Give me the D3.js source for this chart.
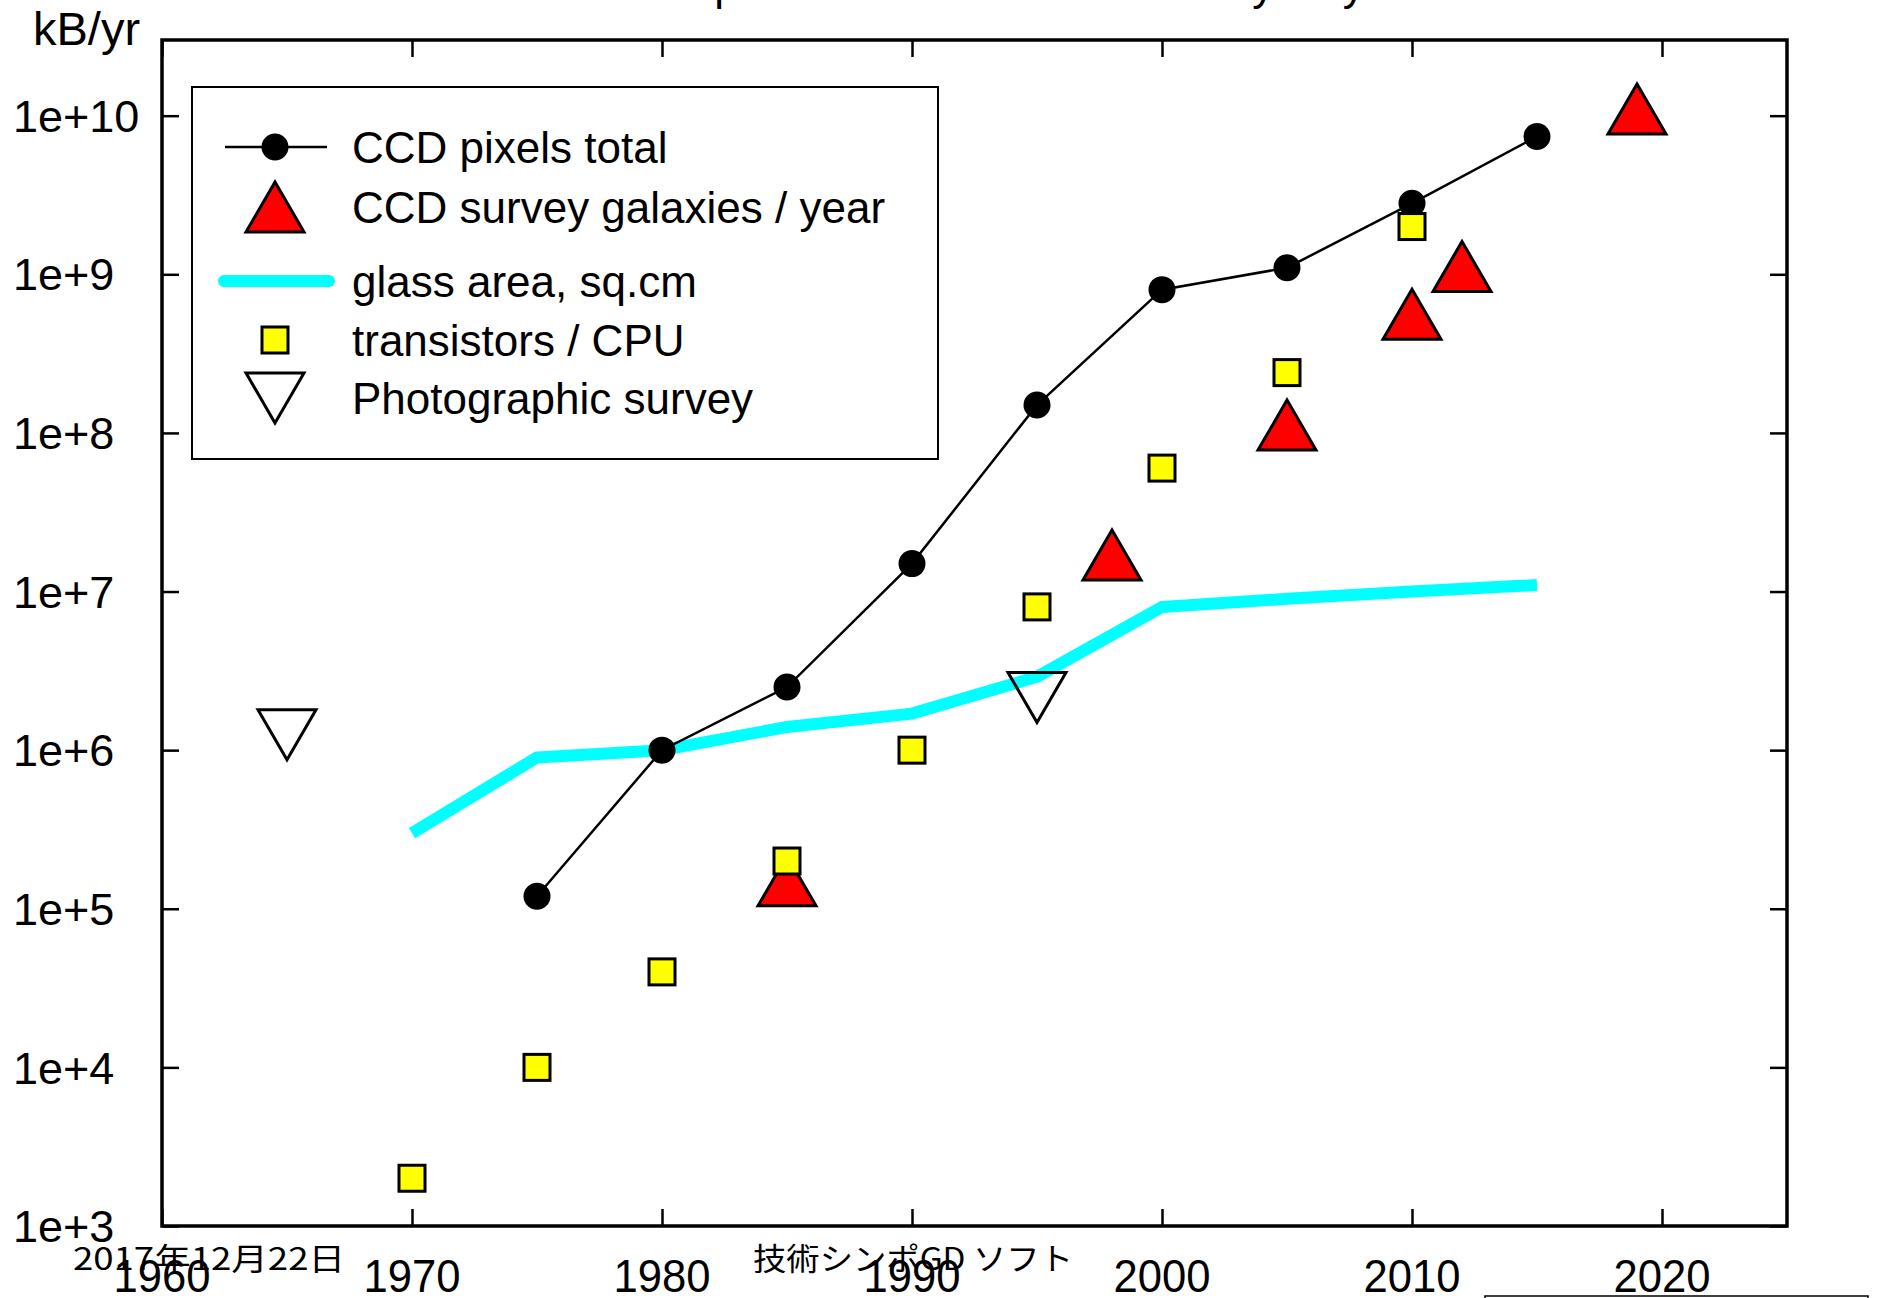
<!DOCTYPE html>
<html>
<head>
<meta charset="utf-8">
<script src="https://cdn.jsdelivr.net/npm/d3@7"></script>
<style>
  html, body { margin: 0; padding: 0; background: #fff; overflow: hidden; }
  svg { display: block; }
  text { font-family: "Liberation Sans", Arial, Helvetica, sans-serif; fill: #000; }
</style>
</head>
<body>
<div id="chart"></div>
<script>
// ---------------- data ----------------
const titleText = "Data production rate of astronomy vs year";
const yAxisLabel = "kB/yr";

const ccdYears   = [1975, 1980, 1985, 1990, 1995, 2000, 2005, 2010, 2015];
const ccdPixels  = [1.2e5, 1.0e6, 2.5e6, 1.5e7, 1.5e8, 8.0e8, 1.1e9, 2.8e9, 7.4e9];

const galYears   = [1985, 1998, 2005, 2010, 2012, 2019];
const galaxies   = [1.5e5, 1.7e7, 1.12e8, 5.6e8, 1.12e9, 1.1e10];

const glassYears = [1970, 1975, 1980, 1985, 1990, 1995, 2000, 2005, 2010, 2015];
const glassArea  = [3.0e5, 9.0e5, 1.0e6, 1.4e6, 1.7e6, 2.9e6, 8.0e6, 9.0e6, 1.0e7, 1.1e7];

const cpuYears   = [1970, 1975, 1980, 1985, 1990, 1995, 2000, 2005, 2010];
const transistors= [2.0e3, 1.0e4, 4.0e4, 2.0e5, 1.0e6, 8.0e6, 6.0e7, 2.4e8, 2.0e9];

const photoYears = [1965, 1995];
const photoSurvey= [1.25e6, 2.15e6];

const xTicks = [1960, 1970, 1980, 1990, 2000, 2010, 2020];
const yTicks = [1e3, 1e4, 1e5, 1e6, 1e7, 1e8, 1e9, 1e10];
const yTickLabels = ["1e+3", "1e+4", "1e+5", "1e+6", "1e+7", "1e+8", "1e+9", "1e+10"];

const legendLabels = ["CCD pixels total", "CCD survey galaxies / year", "glass area, sq.cm", "transistors / CPU", "Photographic survey"];
const footerDate = "2017年12月22日";
const footerEvent = "技術シンポGD ソフト";

// ---------------- layout ----------------
const W = 1885, H = 1298;
const plot = { left: 162, right: 1787, top: 40, bottom: 1226 };

const svg = d3.select("#chart").append("svg").attr("width", W).attr("height", H);

const x = d3.scaleLinear().domain([1960, 2025]).range([plot.left, plot.right]);
const y = d3.scaleLog().domain([1e3, 3e10]).range([plot.bottom, plot.top]);

const zip = (a, b) => a.map((v, i) => [v, b[i]]);

// title (mostly above the visible area)
svg.append("text").attr("x", 609).attr("y", 0)
  .attr("font-size", 44).text(titleText);

// clip for data
svg.append("clipPath").attr("id", "clip").append("rect")
  .attr("x", plot.left).attr("y", plot.top)
  .attr("width", plot.right - plot.left).attr("height", plot.bottom - plot.top);

// ---------------- axes ----------------
const tickLen = 17;
const axisG = svg.append("g");
axisG.append("g").attr("transform", `translate(0,${plot.bottom})`)
  .call(d3.axisTop(x).tickValues(xTicks).tickSize(tickLen).tickFormat(""))
  .call(g => g.select(".domain").remove());
axisG.append("g").attr("transform", `translate(0,${plot.top})`)
  .call(d3.axisBottom(x).tickValues(xTicks).tickSize(tickLen).tickFormat(""))
  .call(g => g.select(".domain").remove());
axisG.append("g").attr("transform", `translate(${plot.left},0)`)
  .call(d3.axisRight(y).tickValues(yTicks).tickSize(tickLen).tickFormat(""))
  .call(g => g.select(".domain").remove());
axisG.append("g").attr("transform", `translate(${plot.right},0)`)
  .call(d3.axisLeft(y).tickValues(yTicks).tickSize(tickLen).tickFormat(""))
  .call(g => g.select(".domain").remove());
axisG.selectAll(".tick line").attr("stroke", "#000").attr("stroke-width", 2.5);

// frame
svg.append("rect").attr("x", plot.left).attr("y", plot.top)
  .attr("width", plot.right - plot.left).attr("height", plot.bottom - plot.top)
  .attr("fill", "none").attr("stroke", "#000").attr("stroke-width", 3.5);

// y tick labels
svg.append("g").selectAll("text").data(yTicks).join("text")
  .attr("x", 13).attr("y", d => y(d)).attr("dy", "0.36em")
  .attr("font-size", 45)
  .text((d, i) => yTickLabels[i]);

// y axis label
svg.append("text").attr("x", 33).attr("y", 45).attr("font-size", 47).text(yAxisLabel);

// x tick labels
svg.append("g").selectAll("text").data(xTicks).join("text")
  .attr("x", d => x(d)).attr("y", 1292)
  .attr("text-anchor", "middle").attr("font-size", 47)
  .attr("textLength", 97).attr("lengthAdjust", "spacingAndGlyphs")
  .text(d => d);

// ---------------- symbols ----------------
const triUp = (w, h) => `M0,${-h/2}L${w/2},${h/2}L${-w/2},${h/2}Z`;
const triDown = (w, h) => `M0,${h/2}L${w/2},${-h/2}L${-w/2},${-h/2}Z`;
const TW = 58, TH = 50, SQ = 26, CR = 13.5;

const data = svg.append("g").attr("clip-path", "url(#clip)");

// glass area line
data.append("path").datum(zip(glassYears, glassArea))
  .attr("fill", "none").attr("stroke", "#00ffff").attr("stroke-width", 12)
  .attr("stroke-linejoin", "round")
  .attr("d", d3.line().x(d => x(d[0])).y(d => y(d[1])));

// CCD pixels line + points
data.append("path").datum(zip(ccdYears, ccdPixels))
  .attr("fill", "none").attr("stroke", "#000").attr("stroke-width", 2.5)
  .attr("d", d3.line().x(d => x(d[0])).y(d => y(d[1])));
data.append("g").selectAll("circle").data(zip(ccdYears, ccdPixels)).join("circle")
  .attr("cx", d => x(d[0])).attr("cy", d => y(d[1])).attr("r", CR).attr("fill", "#000");

// photographic survey (open down triangles)
data.append("g").selectAll("path").data(zip(photoYears, photoSurvey)).join("path")
  .attr("transform", d => `translate(${x(d[0])},${y(d[1])})`)
  .attr("d", triDown(TW, TH)).attr("fill", "none").attr("stroke", "#000").attr("stroke-width", 3);

// galaxies triangles
data.append("g").selectAll("path").data(zip(galYears, galaxies)).join("path")
  .attr("transform", d => `translate(${x(d[0])},${y(d[1])})`)
  .attr("d", triUp(TW, TH)).attr("fill", "#ff0000").attr("stroke", "#000").attr("stroke-width", 3)
  .attr("stroke-linejoin", "miter");

// transistors squares
data.append("g").selectAll("rect").data(zip(cpuYears, transistors)).join("rect")
  .attr("x", d => x(d[0]) - SQ/2).attr("y", d => y(d[1]) - SQ/2)
  .attr("width", SQ).attr("height", SQ)
  .attr("fill", "#ffff00").attr("stroke", "#000").attr("stroke-width", 3);

// ---------------- legend ----------------
const lg = svg.append("g");
lg.append("rect").attr("x", 192).attr("y", 87).attr("width", 746).attr("height", 372)
  .attr("fill", "#fff").attr("stroke", "#000").attr("stroke-width", 2);
const rowY = [147, 207, 281, 340, 398];
const symX = 275, textX = 352;
lg.selectAll("text").data(legendLabels).join("text")
  .attr("x", textX).attr("y", (d, i) => rowY[i]).attr("dy", "0.36em")
  .attr("font-size", 44).text(d => d);
lg.append("line").attr("x1", 225).attr("x2", 327).attr("y1", rowY[0]).attr("y2", rowY[0])
  .attr("stroke", "#000").attr("stroke-width", 2.5);
lg.append("circle").attr("cx", symX).attr("cy", rowY[0]).attr("r", CR).attr("fill", "#000");
lg.append("path").attr("transform", `translate(${symX},${rowY[1]})`)
  .attr("d", triUp(TW, TH)).attr("fill", "#ff0000").attr("stroke", "#000").attr("stroke-width", 3);
lg.append("line").attr("x1", 224).attr("x2", 329).attr("y1", rowY[2]).attr("y2", rowY[2])
  .attr("stroke", "#00ffff").attr("stroke-width", 12).attr("stroke-linecap", "round");
lg.append("rect").attr("x", symX - SQ/2).attr("y", rowY[3] - SQ/2).attr("width", SQ).attr("height", SQ)
  .attr("fill", "#ffff00").attr("stroke", "#000").attr("stroke-width", 3);
lg.append("path").attr("transform", `translate(${symX},${rowY[4]})`)
  .attr("d", triDown(TW, TH)).attr("fill", "none").attr("stroke", "#000").attr("stroke-width", 3);

// ---------------- slide footer overlay ----------------
svg.append("text").attr("x", 73).attr("y", 1270)
  .style("font-family", "'Noto Sans CJK JP', sans-serif").attr("font-size", 31)
  .attr("textLength", 272).attr("lengthAdjust", "spacingAndGlyphs").text(footerDate);
svg.append("text").attr("x", 753).attr("y", 1270)
  .style("font-family", "'Noto Sans CJK JP', sans-serif").attr("font-size", 31)
  .attr("textLength", 320).attr("lengthAdjust", "spacingAndGlyphs").text(footerEvent);
svg.append("rect").attr("x", 1485).attr("y", 1296).attr("width", 383).attr("height", 40)
  .attr("fill", "none").attr("stroke", "#000").attr("stroke-width", 1.5);
</script>
</body>
</html>
